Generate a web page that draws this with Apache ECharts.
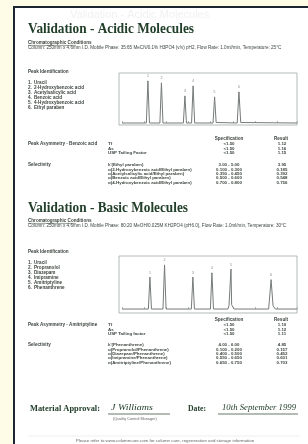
<!doctype html>
<html lang="en">
<head>
<meta charset="UTF-8">
<title>Validation</title>
<script src="https://cdn.jsdelivr.net/npm/echarts@6/dist/echarts.min.js"></script>
<style>
  body { margin: 0; background: #fefbe6; }
</style>
</head>
<body>
<div id="chart" style="width: 308px;height: 444px;"></div>
<script type="text/javascript">
// chromatogram traces, [time (min), response]
const acidTrace = [[0, 0], [1.10, 0], [1.17, 84], [1.24, 0], [1.71, 0], [1.78, 80], [1.85, 0],
    [2.77, 0], [2.84, 54], [2.91, 0], [3.14, 0], [3.21, 74], [3.28, 0], [4.11, 0], [4.18, 52],
    [4.25, 1], [4.31, 0], [5.20, 0], [5.28, 62], [5.36, 1], [5.44, 0], [7.9, 0]];
const basicTrace = [[0, 0], [1.19, 0], [1.26, 60], [1.33, 0], [1.85, 0], [1.92, 83], [1.99, 0],
    [3.13, 0], [3.20, 60], [3.27, 0], [3.99, 0], [4.06, 68], [4.13, 0], [4.78, 0], [4.83, 6],
    [4.89, 8], [4.92, 75], [4.95, 8], [5.01, 6], [5.06, 0], [6.62, 0], [6.73, 55], [6.82, 6],
    [6.92, 0], [7.9, 0]];

const acidConditions = 'Column: 250mm x 4.6mm I.D. Mobile Phase: 35:65 MeCN/0.1% H3PO4 (v/v) pH2, Flow Rate: 1.0ml/min, Temperature: 25\u00b0C';
const basicConditions = 'Column: 250mm x 4.6mm I.D. Mobile Phase: 80:20 MeOH/0.025M KH2PO4 (pH6.0), Flow Rate: 1.0ml/min, Temperature: 30\u00b0C';
const acidPeakNames = ['Uracil', '2-Hydroxybenzoic acid', 'Acetylsalicylic acid', 'Benzoic acid',
    '4-Hydroxybenzoic acid', 'Ethyl paraben'];
const basicPeakNames = ['Uracil', 'Propranolol', 'Diazepam', 'Imipramine', 'Amitriptyline', 'Phenanthrene'];

const acidAsymRows = [['Tf', '<1.50', '1.12'], ['As', '<1.50', '1.16'], ['USP Tailing Factor', '<1.50', '1.15']];
const acidSelectRows = [['k\'(Ethyl paraben)', '3.00 - 5.00', '3.95'],
    ['\u03b1(2-Hydroxybenzoic acid/Ethyl paraben)', '0.100 - 0.300', '0.185'],
    ['\u03b1(Acetylsalicylic acid/Ethyl paraben)', '0.350 - 0.450', '0.392'],
    ['\u03b1(Benzoic acid/Ethyl paraben)', '0.500 - 0.600', '0.548'],
    ['\u03b1(4-Hydroxybenzoic acid/Ethyl paraben)', '0.700 - 0.800', '0.756']];
const basicAsymRows = [['Tf', '<1.50', '1.10'], ['As', '<1.50', '1.12'], ['USP Tailing factor', '<1.50', '1.11']];
const basicSelectRows = [['k\'(Phenanthrene)', '4.00 - 6.00', '4.85'],
    ['\u03b1(Propranolol/Phenanthrene)', '0.100 - 0.200', '0.157'],
    ['\u03b1(Diazepam/Phenanthrene)', '0.400 - 0.500', '0.452'],
    ['\u03b1(Imipramine/Phenanthrene)', '0.550 - 0.650', '0.601'],
    ['\u03b1(Amitriptyline/Phenanthrene)', '0.650 - 0.750', '0.703']];

const ink = '#3a443d';
const green = '#223f2a';
const serifFamily = '"Liberation Serif", "Times New Roman", Times, serif';

// small body text
function txt(x, y, s, size, extra) {
    return {
        type: 'text', z: 10,
        style: Object.assign({
            text: s, x: x, y: y, fontSize: size, fontFamily: 'Liberation Sans', fontWeight: 'bold',
            fill: ink, textVerticalAlign: 'middle'
        }, extra || {})
    };
}
// headings and signature line; squeezed to the width they take on the page
let ruler = document.createElement('canvas').getContext('2d');
function serif(x, y, s, size, width, italic) {
    let font = (italic ? 'italic ' : 'bold ') + size + 'px ' + serifFamily;
    ruler.font = font;
    let sx = width / ruler.measureText(s).width;
    return {
        type: 'text', z: 11, x: x, y: y, scaleX: sx,
        style: { text: s, x: 0, y: 0, fill: green, font: font, textVerticalAlign: 'middle' }
    };
}
function rule(x1, y1, x2, y2, color, w) {
    return { type: 'line', z: 10, shape: { x1: x1, y1: y1, x2: x2, y2: y2 }, style: { stroke: color, lineWidth: w } };
}

let g = [];
// page
g.push({ type: 'rect', z: 0, shape: { x: 14, y: 7, width: 300, height: 445 }, style: { fill: '#ffffff', stroke: '#1b2631', lineWidth: 2 } });
// chromatogram frames
g.push({ type: 'rect', z: 1, shape: { x: 119, y: 73, width: 178, height: 52 }, style: { fill: 'none', stroke: '#9fa9a3', lineWidth: 0.8 } });
g.push({ type: 'rect', z: 1, shape: { x: 119, y: 256, width: 178, height: 57 }, style: { fill: 'none', stroke: '#9fa9a3', lineWidth: 0.8 } });

g.push(serif(28, 29, 'Validation - Acidic Molecules', 15, 166));
g.push(serif(28, 208, 'Validation - Basic Molecules', 15, 160));
g.push(serif(30, 409, 'Material Approval:', 9, 70));
g.push(serif(188, 409, 'Date:', 9, 18));
g.push(serif(111, 408, 'J Williams', 9, 42, true));
g.push(serif(222, 408, '10th September 1999', 9, 74, true));

function section(cond, condY, peakY, names, asymLabel, asymY, asymRows, selY, selRows) {
    g.push(txt(28, condY - 5, 'Chromatographic Conditions', 4.6));
    g.push(rule(28, condY - 2.6, 76, condY - 2.6, ink, 0.5));
    g.push(txt(28, condY, cond, 4.6, { fontWeight: 'normal' }));
    g.push(txt(28, peakY, 'Peak Identification', 4.6));
    names.forEach(function (n, i) {
        g.push(txt(28, peakY + 11 + i * 5, (i + 1) + '.', 4.6));
        g.push(txt(34, peakY + 11 + i * 5, n, 4.6));
    });
    g.push(txt(229, asymY - 5, 'Specification', 4.6, { textAlign: 'center' }));
    g.push(txt(281, asymY - 5, 'Result', 4.6, { textAlign: 'center' }));
    g.push(txt(28, asymY, asymLabel, 4.6));
    asymRows.forEach(function (r, i) {
        g.push(txt(108, asymY + i * 4.5, r[0], 4.4));
        g.push(txt(229, asymY + i * 4.5, r[1], 4.4, { textAlign: 'center' }));
        g.push(txt(282, asymY + i * 4.5, r[2], 4.4, { textAlign: 'center' }));
    });
    g.push(txt(28, selY, 'Selectivity', 4.6));
    selRows.forEach(function (r, i) {
        g.push(txt(108, selY + i * 4.4, r[0], 4.4));
        g.push(txt(229, selY + i * 4.4, r[1], 4.4, { textAlign: 'center' }));
        g.push(txt(282, selY + i * 4.4, r[2], 4.4, { textAlign: 'center' }));
    });
}

section(acidConditions, 48, 72, acidPeakNames,
    'Peak Asymmetry - Benzoic acid', 144, acidAsymRows, 165, acidSelectRows);
section(basicConditions, 226, 252, basicPeakNames,
    'Peak Asymmetry - Amitriptyline', 325, basicAsymRows, 345, basicSelectRows);

g.push(rule(108, 414, 170, 414, green, 0.7));
g.push(txt(113, 419, '(Quality Control Manager)', 3.8, { fill: '#666', fontWeight: 'normal' }));
g.push(rule(218, 414, 298, 414, green, 0.7));
g.push(rule(28, 436, 300, 436, '#e4e4e4', 0.6));
g.push(txt(165, 441, 'Please refer to www.columncare.com for column care, regeneration and storage information', 4.4, { fill: '#666', fontWeight: 'normal', textAlign: 'center' }));
g.push(txt(70, 15, 'Validation - Acidic Molecules', 11, { fill: '#f1f1f1', fontWeight: 'normal' }));

function peakLabels(trace) {
    return trace.filter(function (p) { return p[1] > 20; });
}

function xAx(i) {
    return {
        gridIndex: i, type: 'value', min: 0, max: 7.9, interval: 1,
        axisLine: { show: false },
        axisTick: { show: true, inside: true, length: 2, lineStyle: { color: '#9fa9a3', width: 0.8 } },
        axisLabel: { show: false }, splitLine: { show: false }
    };
}
function yAx(i, min) {
    return { gridIndex: i, type: 'value', min: min, max: 100, show: false, splitLine: { show: false } };
}
function traceSeries(i, data) {
    return {
        type: 'line', xAxisIndex: i, yAxisIndex: i, data: data, symbol: 'none', animation: false,
        lineStyle: { color: '#767b78', width: 1 }
    };
}
function labelSeries(i, data) {
    return {
        type: 'scatter', xAxisIndex: i, yAxisIndex: i, data: data, symbolSize: 1, animation: false,
        itemStyle: { color: '#767b78' },
        label: {
            show: true, position: 'top', distance: 2, fontSize: 3.5, color: '#666',
            formatter: function (p) { return String(p.dataIndex + 1); }
        }
    };
}

let chart = echarts.init(document.getElementById('chart'));
chart.setOption({
    animation: false,
    graphic: g,
    grid: [
        { left: 122, top: 73, width: 175, height: 52 },
        { left: 122, top: 256, width: 175, height: 57 }
    ],
    xAxis: [xAx(0), xAx(1)],
    yAxis: [yAx(0, -4), yAx(1, -7.5)],
    series: [
        traceSeries(0, acidTrace), labelSeries(0, peakLabels(acidTrace)),
        traceSeries(1, basicTrace), labelSeries(1, peakLabels(basicTrace))
    ]
});
</script>
</body>
</html>
